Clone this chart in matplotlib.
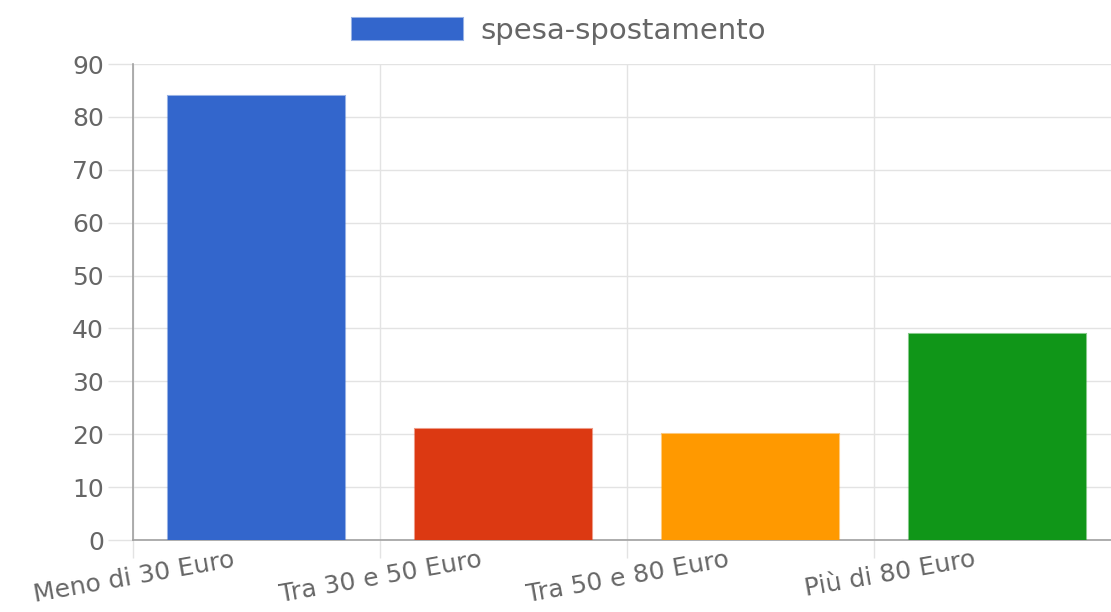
import matplotlib.pyplot as plt
from matplotlib.patches import Patch
from matplotlib.transforms import ScaledTranslation
from matplotlib.colors import to_rgba

categories = ['Meno di 30 Euro', 'Tra 30 e 50 Euro', 'Tra 50 e 80 Euro', 'Più di 80 Euro']
values = [84, 21, 20, 39]
colors = ['#3366CC', '#DC3912', '#FF9900', '#109618']
series_name = 'spesa-spostamento'
y_ticks = list(range(0, 100, 10))

plt.rcParams['font.family'] = ['DejaVu Sans']

W, H = 1111, 612
fig = plt.figure(figsize=(W / 100, H / 100), dpi=100)
# axes spans past the right edge like the original (last category is clipped)
ax = fig.add_axes([133 / W, (H - 540) / H, 988 / W, 476 / H])

x = range(len(categories))
edge = [to_rgba(c, 0.5) for c in colors]
ax.bar(x, values, width=0.72, color=colors, edgecolor=edge, linewidth=1.5, zorder=3)

ax.set_xlim(-0.5, len(categories) - 0.5)
ax.set_ylim(0, 90)
ax.set_yticks(y_ticks)

grid_c = '#e3e3e3'
axis_c = '#a0a0a0'
ax.grid(axis='y', color=grid_c, linewidth=1, zorder=0)
ax.set_xticks([i - 0.5 for i in range(len(categories))], minor=True)
ax.grid(axis='x', which='minor', color=grid_c, linewidth=1, zorder=0)

for s in ['top', 'right']:
    ax.spines[s].set_visible(False)
for s in ['left', 'bottom']:
    ax.spines[s].set_color(axis_c)
    ax.spines[s].set_linewidth(1.2)

ax.tick_params(axis='y', length=18, color=grid_c, width=1, pad=3,
               labelsize=18, labelcolor='#666666')
ax.tick_params(axis='x', which='minor', length=13, color=grid_c, width=1)
ax.set_xticks(list(x))
ax.set_xticklabels(categories)
ax.tick_params(axis='x', which='major', length=0, pad=14,
               labelsize=18, labelcolor='#666666')
offset = ScaledTranslation(-0.22, 0, fig.dpi_scale_trans)
for lab in ax.get_xticklabels():
    lab.set_rotation(10)
    lab.set_ha('right')
    lab.set_va('center')
    lab.set_rotation_mode('anchor')
    lab.set_transform(lab.get_transform() + offset)

handle = Patch(facecolor=colors[0], edgecolor=to_rgba(colors[0], 0.5), linewidth=1.5)
fig.legend([handle], [series_name], loc='center', bbox_to_anchor=(0.503, 1 - 31 / H),
           frameon=False, fontsize=21, labelcolor='#666666',
           handlelength=3.8, handleheight=0.8, handletextpad=0.6)

fig.savefig('out.png', dpi=100)
